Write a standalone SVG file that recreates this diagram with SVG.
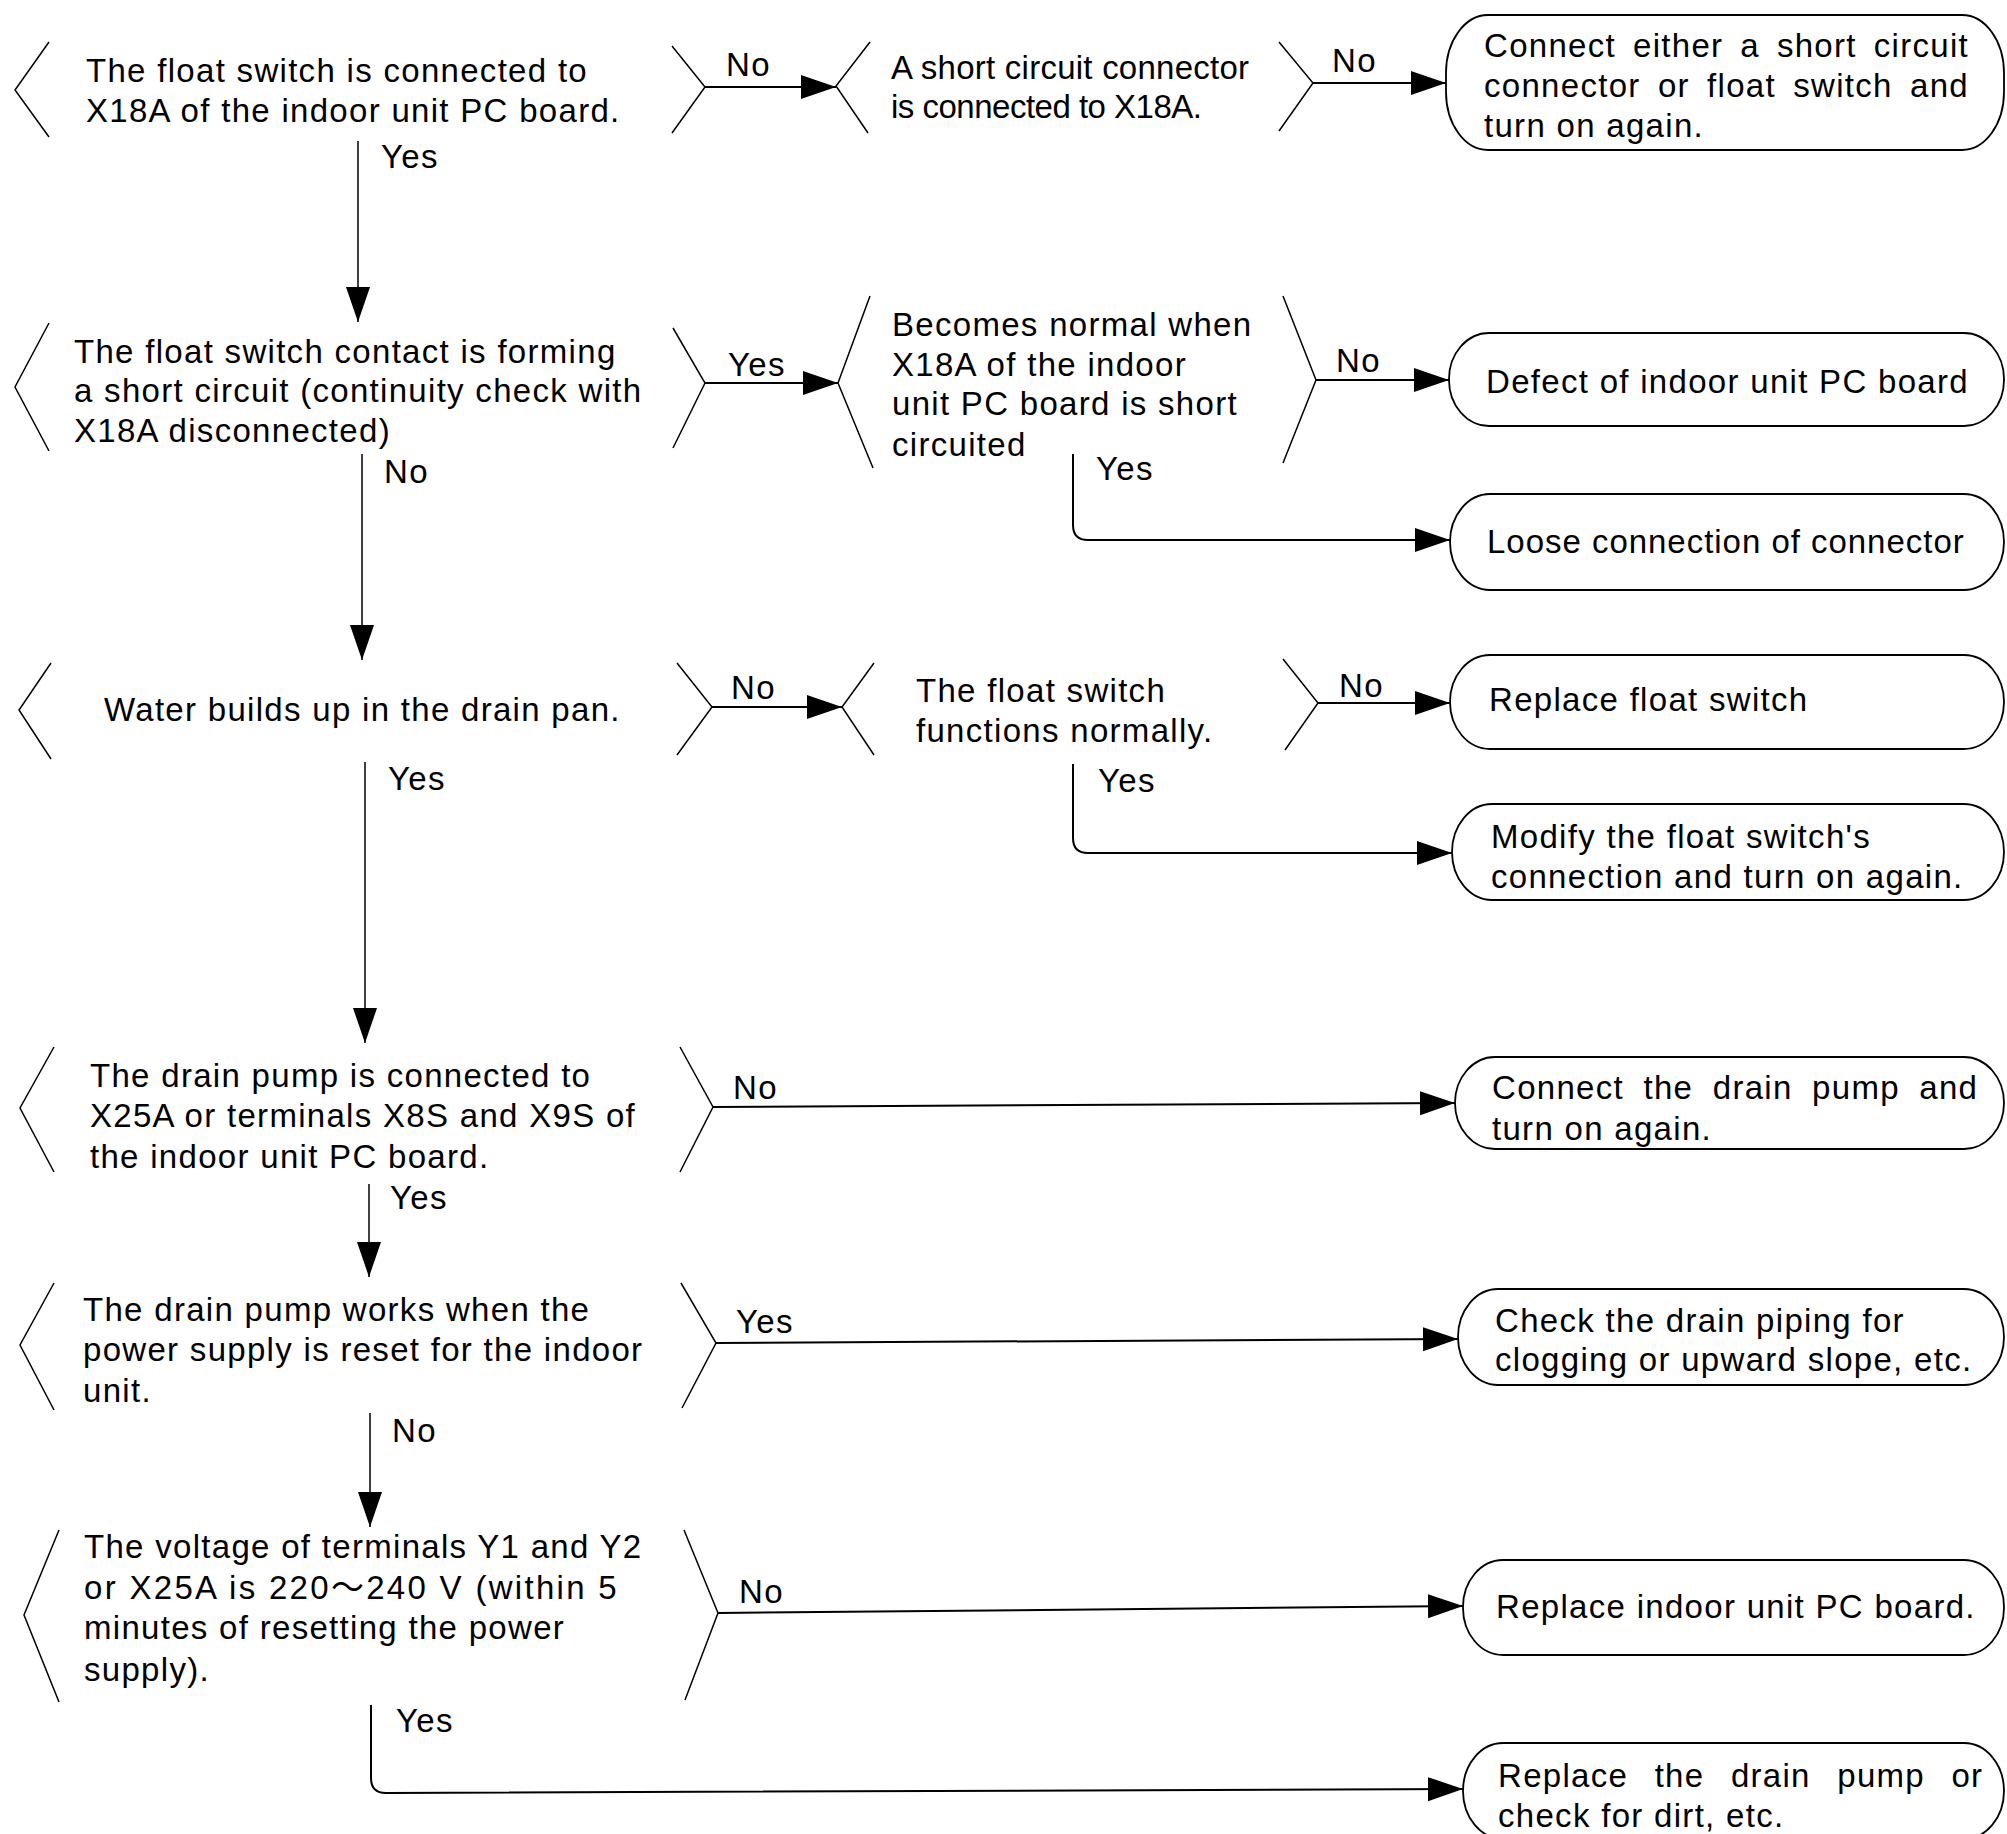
<svg xmlns="http://www.w3.org/2000/svg" width="2007" height="1834" viewBox="0 0 2007 1834">
<style>
text{font-family:"Liberation Sans",Arial,"Noto Sans CJK JP",sans-serif;font-size:33px;letter-spacing:1.3px;fill:#000}
.br{fill:none;stroke:#000;stroke-width:1.5}
.box{fill:#fff;stroke:#000;stroke-width:1.8}
.c{fill:none;stroke:#000;stroke-width:2}
.v{fill:none;stroke:#000;stroke-width:1.5}
.tight{letter-spacing:0}
</style>
<defs>
<marker id="ah" markerUnits="userSpaceOnUse" markerWidth="36" markerHeight="26" refX="35" refY="12" orient="auto">
<path d="M0,0 L35,12 L0,24 Z" fill="#000"/>
</marker>
</defs>
<rect width="2007" height="1834" fill="#fff"/>

<g id="connectors">
<path class="v" d="M358,141 V322" marker-end="url(#ah)"/>
<path class="v" d="M362,454 V660" marker-end="url(#ah)"/>
<path class="v" d="M365,762 V1043" marker-end="url(#ah)"/>
<path class="v" d="M369,1184 V1277" marker-end="url(#ah)"/>
<path class="v" d="M370,1413 V1527" marker-end="url(#ah)"/>
<path class="c" d="M705,87 H836" marker-end="url(#ah)"/>
<path class="c" d="M1313,83 H1446" marker-end="url(#ah)"/>
<path class="c" d="M705,383 H838" marker-end="url(#ah)"/>
<path class="c" d="M1316,380 H1449" marker-end="url(#ah)"/>
<path class="c" d="M1073,454 V525 Q1073,540 1088,540 H1450" marker-end="url(#ah)"/>
<path class="c" d="M712,707 H842" marker-end="url(#ah)"/>
<path class="c" d="M1318,703 H1450" marker-end="url(#ah)"/>
<path class="c" d="M1073,764 V838 Q1073,853 1088,853 H1452" marker-end="url(#ah)"/>
<path class="c" d="M713,1107 L1455,1103" marker-end="url(#ah)"/>
<path class="c" d="M716,1343 L1458,1339" marker-end="url(#ah)"/>
<path class="c" d="M718,1613 L1463,1606" marker-end="url(#ah)"/>
<path class="c" d="M371,1705 V1778 Q371,1793 386,1793 L1463,1789" marker-end="url(#ah)"/>
<text x="381" y="168">Yes</text>
<text x="726" y="76">No</text>
<text x="1332" y="72">No</text>
<text x="728" y="376">Yes</text>
<text x="384" y="483">No</text>
<text x="1336" y="372">No</text>
<text x="1096" y="480">Yes</text>
<text x="731" y="699">No</text>
<text x="388" y="790">Yes</text>
<text x="1339" y="697">No</text>
<text x="1098" y="792">Yes</text>
<text x="733" y="1099">No</text>
<text x="390" y="1209">Yes</text>
<text x="736" y="1333">Yes</text>
<text x="392" y="1442">No</text>
<text x="739" y="1603">No</text>
<text x="396" y="1732">Yes</text>
</g>

<g id="d1">
<path class="br" d="M49,42 L15,90 L49,137"/>
<path class="br" d="M672,46 L705,87 L672,133"/>
<text x="86" y="82">The float switch is connected to</text>
<text x="86" y="122">X18A of the indoor unit PC board.</text>
</g>
<g id="d2">
<path class="br" d="M870,42 L836,86 L868,133"/>
<path class="br" d="M1279,42 L1313,83 L1279,131"/>
<text class="tight" x="891" y="79" textLength="358" lengthAdjust="spacing">A short circuit connector</text>
<text class="tight" x="891" y="118" textLength="311" lengthAdjust="spacing">is connected to X18A.</text>
</g>
<g id="d3">
<path class="br" d="M49,323 L15,387 L49,451"/>
<path class="br" d="M673,328 L705,383 L673,448"/>
<text x="74" y="363">The float switch contact is forming</text>
<text x="74" y="402">a short circuit (continuity check with</text>
<text x="74" y="442">X18A disconnected)</text>
</g>
<g id="d4">
<path class="br" d="M870,296 L838,383 L873,468"/>
<path class="br" d="M1283,296 L1316,380 L1283,463"/>
<text x="892" y="336">Becomes normal when</text>
<text x="892" y="376">X18A of the indoor</text>
<text x="892" y="415">unit PC board is short</text>
<text x="892" y="456">circuited</text>
</g>
<g id="d5">
<path class="br" d="M51,663 L19,710 L51,759"/>
<path class="br" d="M677,663 L712,707 L677,755"/>
<text x="104" y="721">Water builds up in the drain pan.</text>
</g>
<g id="d6">
<path class="br" d="M874,663 L842,707 L874,755"/>
<path class="br" d="M1283,659 L1318,703 L1285,750"/>
<text x="916" y="702">The float switch</text>
<text x="916" y="742">functions normally.</text>
</g>
<g id="d7">
<path class="br" d="M54,1047 L20,1108 L54,1172"/>
<path class="br" d="M680,1047 L713,1107 L680,1172"/>
<text x="90" y="1087">The drain pump is connected to</text>
<text x="90" y="1127">X25A or terminals X8S and X9S of</text>
<text x="90" y="1168">the indoor unit PC board.</text>
</g>
<g id="d8">
<path class="br" d="M54,1283 L20,1345 L54,1410"/>
<path class="br" d="M681,1283 L716,1343 L682,1408"/>
<text x="83" y="1321">The drain pump works when the</text>
<text x="83" y="1361">power supply is reset for the indoor</text>
<text x="83" y="1402">unit.</text>
</g>
<g id="d9">
<path class="br" d="M59,1530 L24,1615 L59,1702"/>
<path class="br" d="M684,1530 L718,1613 L685,1700"/>
<text x="84" y="1558">The voltage of terminals Y1 and Y2</text>
<text x="84" y="1599" textLength="534" lengthAdjust="spacing">or X25A is 220〜240 V (within 5</text>
<text x="84" y="1639">minutes of resetting the power</text>
<text x="84" y="1681">supply).</text>
</g>

<g id="b1">
<rect class="box" x="1446" y="15" width="558" height="135" rx="42" ry="58"/>
<text x="1484" y="57" word-spacing="6.5">Connect either a short circuit</text>
<text x="1484" y="97" word-spacing="6.8">connector or float switch and</text>
<text x="1484" y="137">turn on again.</text>
</g>
<g id="b2">
<rect class="box" x="1449" y="333" width="555" height="93" rx="40" ry="46"/>
<text x="1486" y="393">Defect of indoor unit PC board</text>
</g>
<g id="b3">
<rect class="box" x="1450" y="494" width="554" height="96" rx="40" ry="48"/>
<text x="1487" y="553" textLength="478" lengthAdjust="spacing">Loose connection of connector</text>
</g>
<g id="b4">
<rect class="box" x="1450" y="655" width="554" height="94" rx="40" ry="47"/>
<text x="1489" y="711">Replace float switch</text>
</g>
<g id="b5">
<rect class="box" x="1452" y="804" width="552" height="96" rx="40" ry="48"/>
<text x="1491" y="848">Modify the float switch's</text>
<text x="1491" y="888">connection and turn on again.</text>
</g>
<g id="b6">
<rect class="box" x="1455" y="1057" width="549" height="92" rx="40" ry="46"/>
<text x="1492" y="1099" word-spacing="9">Connect the drain pump and</text>
<text x="1492" y="1140">turn on again.</text>
</g>
<g id="b7">
<rect class="box" x="1458" y="1289" width="546" height="96" rx="40" ry="48"/>
<text x="1495" y="1332">Check the drain piping for</text>
<text x="1495" y="1371">clogging or upward slope, etc.</text>
</g>
<g id="b8">
<rect class="box" x="1463" y="1560" width="541" height="95" rx="40" ry="47"/>
<text x="1496" y="1618">Replace indoor unit PC board.</text>
</g>
<g id="b9">
<rect class="box" x="1463" y="1743" width="541" height="96" rx="40" ry="48"/>
<text x="1498" y="1787" word-spacing="16">Replace the drain pump or</text>
<text x="1498" y="1827">check for dirt, etc.</text>
</g>
</svg>
